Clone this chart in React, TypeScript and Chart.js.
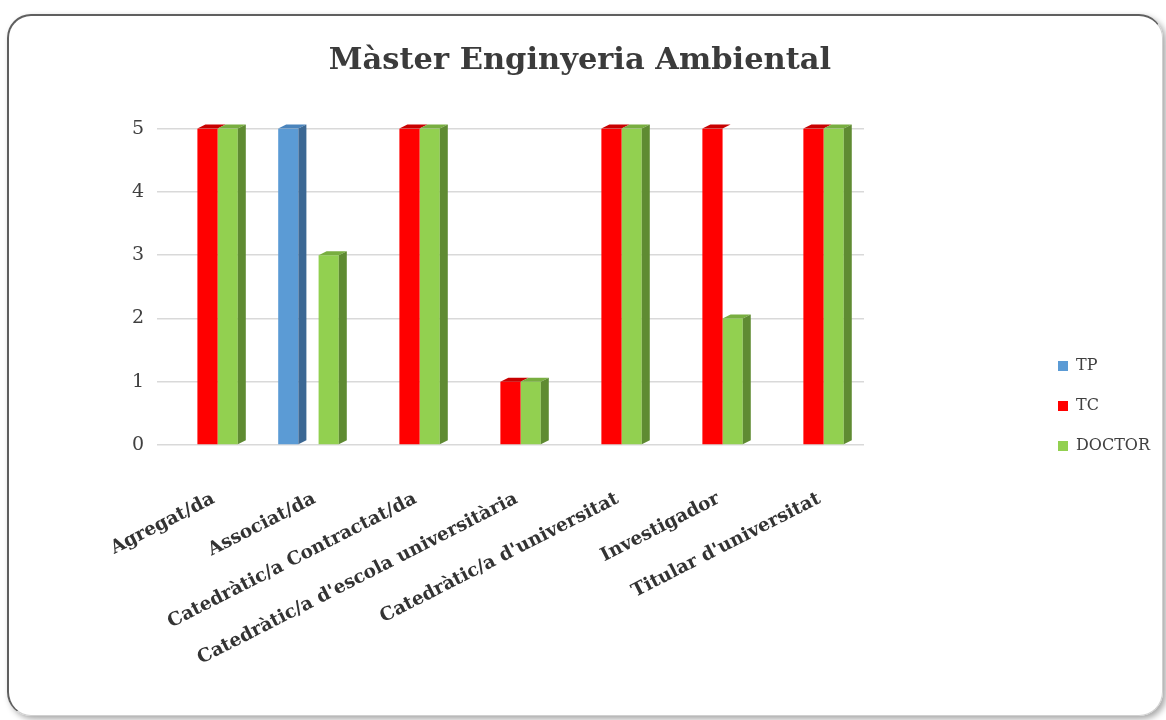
import React, { useEffect, useRef } from "react";
import { Chart, registerables } from "chart.js";

Chart.register(...registerables);

const categories = [
  "Agregat/da",
  "Associat/da",
  "Catedràtic/a Contractat/da",
  "Catedràtic/a d'escola universitària",
  "Catedràtic/a d'universitat",
  "Investigador",
  "Titular d'universitat",
];
const tpValues = [null, 5, null, null, null, null, null];
const tcValues = [5, null, 5, 1, 5, 5, 5];
const doctorValues = [5, 3, 5, 1, 5, 2, 5];
const yTicks = [0, 1, 2, 3, 4, 5];

const FONT = "'DejaVu Serif', serif";
const DEPTH_X = 8;
const DEPTH_Y = 4;

const faceColors: Record<string, { top: string; side: string }> = {
  TP: { top: "#4A84BC", side: "#3C6894" },
  TC: { top: "#C80000", side: "#A80000" },
  DOCTOR: { top: "#78AE40", side: "#5F8B32" },
};

const bar3d = {
  id: "bar3d",
  afterDatasetsDraw(chart: any) {
    const ctx = chart.ctx;
    const dss = chart.data.datasets;
    const n = dss.length;
    const poly = (pts: number[]) => {
      ctx.beginPath();
      ctx.moveTo(pts[0], pts[1]);
      for (let k = 2; k < pts.length; k += 2) ctx.lineTo(pts[k], pts[k + 1]);
      ctx.closePath();
      ctx.fill();
    };
    ctx.save();
    for (let i = 0; i < n; i++) {
      const meta = chart.getDatasetMeta(i);
      const ds = dss[i];
      const fc = faceColors[ds.label];
      meta.data.forEach((el: any, j: number) => {
        const v = ds.data[j];
        if (v == null) return;
        const { x, y, base, width } = el.getProps(["x", "y", "base", "width"], true);
        const l = x - width / 2;
        const r = x + width / 2;
        ctx.fillStyle = fc.top;
        poly([l, y, r, y, r + DEPTH_X, y - DEPTH_Y, l + DEPTH_X, y - DEPTH_Y]);
        const next = i + 1 < n ? dss[i + 1].data[j] : null;
        if (next == null) {
          ctx.fillStyle = fc.side;
          poly([r, y, r + DEPTH_X, y - DEPTH_Y, r + DEPTH_X, base - DEPTH_Y, r, base]);
        }
      });
    }
    ctx.restore();
  },
};

export default function App() {
  const ref = useRef<HTMLCanvasElement>(null);

  useEffect(() => {
    document.body.style.margin = "0";
    const chart = new Chart(ref.current!, {
      type: "bar",
      data: {
        labels: categories,
        datasets: [
          { label: "TP", data: tpValues as any, backgroundColor: "#5B9BD5", categoryPercentage: 0.6, barPercentage: 1 },
          { label: "TC", data: tcValues as any, backgroundColor: "#FF0000", categoryPercentage: 0.6, barPercentage: 1 },
          { label: "DOCTOR", data: doctorValues as any, backgroundColor: "#92D050", categoryPercentage: 0.6, barPercentage: 1 },
        ],
      },
      options: {
        responsive: false,
        animation: false,
        layout: { padding: { top: 0, left: 0, right: 6, bottom: 22 } },
        plugins: {
          title: {
            display: true,
            text: "Màster Enginyeria Ambiental",
            color: "#3b3b3b",
            font: { family: FONT, size: 30.5, weight: "bold" },
            padding: { top: 43, bottom: 49 },
          },
          legend: {
            position: "right",
            align: "center",
            title: {
              display: true,
              text: " ",
              font: { family: FONT, size: 10 },
              padding: { top: 102, bottom: 0 },
            },
            labels: {
              boxWidth: 10,
              boxHeight: 10,
              padding: 24,
              color: "#404040",
              font: { family: FONT, size: 16 },
            },
          },
          tooltip: { enabled: false },
        },
        scales: {
          x: {
            grid: { display: false },
            border: { display: false },
            ticks: {
              autoSkip: false,
              minRotation: 27,
              maxRotation: 27,
              padding: 35,
              labelOffset: 6,
              color: "#333333",
              font: { family: FONT, size: 18.5, weight: "bold" },
            },
            afterFit(s: any) {
              s.height = 253;
            },
          },
          y: {
            min: 0,
            max: 5,
            afterBuildTicks(s: any) {
              s.ticks = yTicks.map((v) => ({ value: v }));
            },
            ticks: { color: "#404040", padding: 13, font: { family: FONT, size: 19 } },
            grid: { color: "#d9d9d9", lineWidth: 1.5, drawTicks: false },
            border: { display: false },
            afterFit(s: any) {
              s.width = 157;
            },
          },
          yRight: {
            position: "right",
            display: true,
            grid: { display: false },
            border: { display: false },
            ticks: { display: false },
            afterFit(s: any) {
              s.width = 170;
            },
          },
        },
      },
      plugins: [bar3d],
    });
    return () => chart.destroy();
  }, []);

  return (
    <div style={{ position: "relative", width: 1166, height: 720, overflow: "hidden", background: "#fff" }}>
      <div
        style={{
          position: "absolute",
          left: 7,
          top: 14,
          width: 1156,
          height: 702,
          boxSizing: "border-box",
          borderRadius: 24,
          borderLeft: "2px solid #5f5f5f",
          borderTop: "2px solid #5f5f5f",
          borderRight: "1px solid #d0d0d0",
          borderBottom: "1px solid #d0d0d0",
          boxShadow: "3px 3px 6px rgba(0,0,0,0.35)",
        }}
      />
      <canvas ref={ref} width={1166} height={720} style={{ position: "absolute", left: 0, top: 0 }} />
    </div>
  );
}
